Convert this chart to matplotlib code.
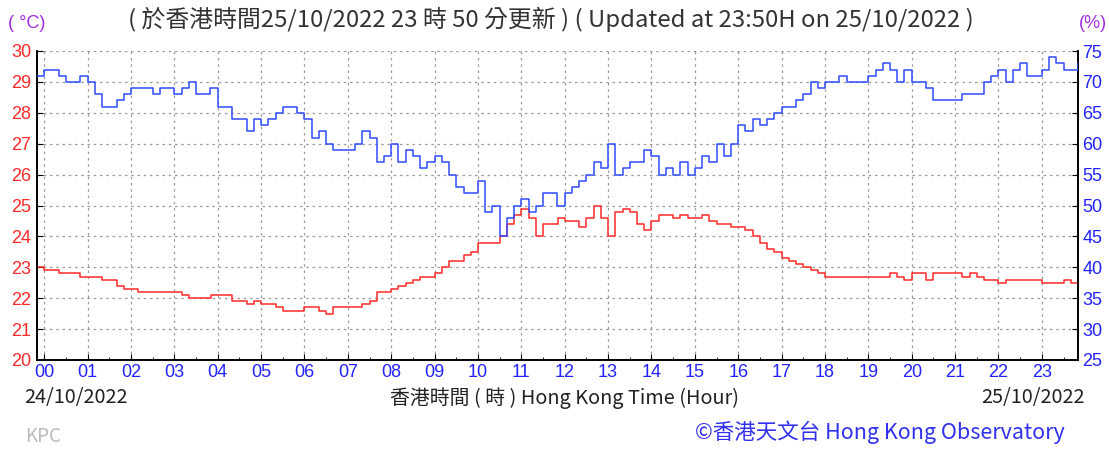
import numpy as np
import matplotlib
matplotlib.use("Agg")
import matplotlib.pyplot as plt
from matplotlib.ticker import MultipleLocator

# 10-minute readings from 23:50 (previous day) to 23:50
temperature = [
    23.0,
    22.9, 22.9, 22.8, 22.8, 22.8, 22.7,   # 00
    22.7, 22.7, 22.6, 22.6, 22.4, 22.3,   # 01
    22.3, 22.2, 22.2, 22.2, 22.2, 22.2,   # 02
    22.2, 22.1, 22.0, 22.0, 22.0, 22.1,   # 03
    22.1, 22.1, 21.9, 21.9, 21.8, 21.9,   # 04
    21.8, 21.8, 21.7, 21.6, 21.6, 21.6,   # 05
    21.7, 21.7, 21.6, 21.5, 21.7, 21.7,   # 06
    21.7, 21.7, 21.8, 21.9, 22.2, 22.2,   # 07
    22.3, 22.4, 22.5, 22.6, 22.7, 22.7,   # 08
    22.8, 23.0, 23.2, 23.2, 23.4, 23.5,   # 09
    23.8, 23.8, 23.8, 24.0, 24.4, 24.7,   # 10
    24.9, 24.6, 24.0, 24.4, 24.4, 24.6,   # 11
    24.5, 24.5, 24.3, 24.6, 25.0, 24.6,   # 12
    24.0, 24.8, 24.9, 24.8, 24.4, 24.2,   # 13
    24.5, 24.7, 24.7, 24.6, 24.7, 24.6,   # 14
    24.6, 24.7, 24.5, 24.4, 24.4, 24.3,   # 15
    24.3, 24.2, 24.0, 23.8, 23.6, 23.5,   # 16
    23.3, 23.2, 23.1, 23.0, 22.9, 22.8,   # 17
    22.7, 22.7, 22.7, 22.7, 22.7, 22.7,   # 18
    22.7, 22.7, 22.7, 22.8, 22.7, 22.6,   # 19
    22.8, 22.8, 22.6, 22.8, 22.8, 22.8,   # 20
    22.8, 22.7, 22.8, 22.7, 22.6, 22.6,   # 21
    22.5, 22.6, 22.6, 22.6, 22.6, 22.6,   # 22
    22.5, 22.5, 22.5, 22.6, 22.5, 22.4,   # 23
]

humidity = [
    71,
    72, 72, 71, 70, 70, 71,   # 00
    70, 68, 66, 66, 67, 68,   # 01
    69, 69, 69, 68, 69, 69,   # 02
    68, 69, 70, 68, 68, 69,   # 03
    66, 66, 64, 64, 62, 64,   # 04
    63, 64, 65, 66, 66, 65,   # 05
    64, 61, 62, 60, 59, 59,   # 06
    59, 60, 62, 61, 57, 58,   # 07
    60, 57, 59, 58, 56, 57,   # 08
    58, 57, 55, 53, 52, 52,   # 09
    54, 49, 50, 45, 48, 50,   # 10
    51, 49, 50, 52, 52, 50,   # 11
    52, 53, 54, 55, 57, 56,   # 12
    60, 55, 56, 57, 57, 59,   # 13
    58, 55, 56, 55, 57, 55,   # 14
    56, 58, 57, 60, 58, 60,   # 15
    63, 62, 64, 63, 64, 65,   # 16
    66, 66, 67, 68, 70, 69,   # 17
    70, 70, 71, 70, 70, 70,   # 18
    71, 72, 73, 72, 70, 72,   # 19
    70, 70, 69, 67, 67, 67,   # 20
    67, 68, 68, 68, 70, 71,   # 21
    72, 70, 72, 73, 71, 71,   # 22
    72, 74, 73, 72, 72, 73,   # 23
]

hour_labels = ["%02d" % h for h in range(24)]
temp_ticks = list(range(20, 31))
rh_ticks = list(range(25, 80, 5))

title = "( 於香港時間25/10/2022 23 時 50 分更新 ) ( Updated at 23:50H on 25/10/2022 )"
xlabel = "香港時間 ( 時 ) Hong Kong Time (Hour)"
credit = "©香港天文台 Hong Kong Observatory"

cjk = ["Noto Sans CJK TC", "DejaVu Sans"]
num_font = "Liberation Sans"
red = "#ff2a2a"
blue = "#2f4cff"
purple = "#a02ee0"

hours = (np.arange(len(temperature)) - 1) / 6.0

fig = plt.figure(figsize=(11.09, 4.5), dpi=100)
ax = fig.add_axes([37 / 1109, 90 / 450, (1078 - 37) / 1109, (360 - 51) / 450])
ax2 = ax.twinx()

ax.plot(hours, temperature, drawstyle="steps-post", color=red, lw=1.1, zorder=3)
ax2.plot(hours, humidity, drawstyle="steps-post", color=blue, lw=1.1, zorder=3)

ax.set_xlim(-1 / 6, 23 + 5 / 6)
ax.set_ylim(20, 30)
ax2.set_ylim(25, 75)

ax.set_xticks(range(24))
ax.set_xticklabels(hour_labels, color="#2222ff", fontsize=13, family=num_font)
ax.xaxis.set_minor_locator(MultipleLocator(0.5))
ax.set_yticks(temp_ticks)
ax.set_yticklabels([str(t) for t in temp_ticks], color=red, fontsize=13, family=num_font)
ax2.set_yticks(rh_ticks)
ax2.set_yticklabels([str(r) for r in rh_ticks], color="#2222ff", fontsize=13, family=num_font)

ax.tick_params(axis="x", which="major", direction="in", length=4, pad=3)
ax.tick_params(axis="x", which="minor", direction="in", length=2)
ax.tick_params(axis="y", direction="in", length=4, pad=4)
ax2.tick_params(axis="y", direction="in", length=4, pad=3)

ax.grid(True, which="major", color="#9a9a9a", linestyle=(0, (2, 3)), lw=0.9)
for a in (ax, ax2):
    a.spines["top"].set_visible(False)
    for s in ("left", "right", "bottom"):
        a.spines[s].set_linewidth(1.2)
        a.spines[s].set_color("black")

fig.text(0.497, 1 - 19 / 450, title, ha="center", va="center",
         fontsize=17.2, color="#333333", family=cjk)
fig.text(27 / 1109, 1 - 23 / 450, "( °C)", ha="center", va="center",
         fontsize=13, color=purple, family=num_font)
fig.text(1093 / 1109, 1 - 23 / 450, "(%)", ha="center", va="center",
         fontsize=13, color=purple, family=num_font)
fig.text(24 / 1109, 1 - 398 / 450, "24/10/2022", ha="left", va="center",
         fontsize=14.3, color="#222222", family=cjk)
fig.text(1085 / 1109, 1 - 398 / 450, "25/10/2022", ha="right", va="center",
         fontsize=14.3, color="#222222", family=cjk)
fig.text(564 / 1109, 1 - 398 / 450, xlabel, ha="center", va="center",
         fontsize=14.3, color="#222222", family=cjk)
fig.text(25 / 1109, 1 - 437 / 450, "KPC", ha="left", va="center",
         fontsize=13.5, color="#bbbbbb", family=cjk)
fig.text(1065 / 1109, 1 - 432 / 450, credit, ha="right", va="center",
         fontsize=15.5, color="#3030ee", family=cjk)

fig.savefig("out.png", dpi=100)
